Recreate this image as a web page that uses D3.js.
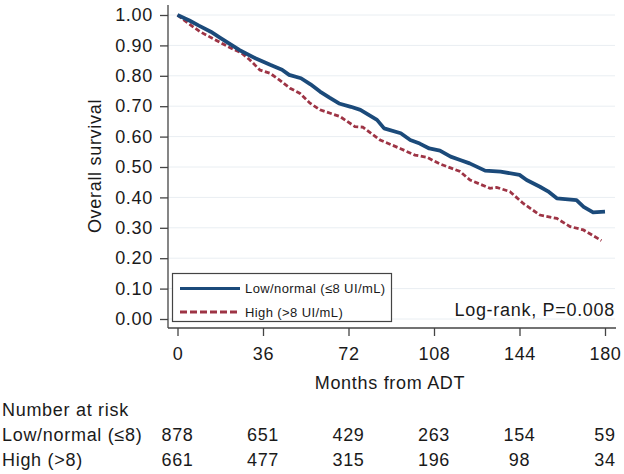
<!DOCTYPE html>
<html>
<head>
<meta charset="utf-8">
<script src="https://cdn.jsdelivr.net/npm/d3@7"></script>
<style>
  body { margin: 0; background: #fff; }
  svg { display: block; font-family: "Liberation Sans", Arial, Helvetica, sans-serif; }
  .lbl { fill: #1a1a1a; font-size: 18px; letter-spacing: 0.7px; }
</style>
</head>
<body>
<div id="chart"></div>
<script>
// Kaplan-Meier estimates: [months, survival]
const lowNormal = [
    [0, 1.0], [5, 0.982], [9, 0.965], [14, 0.945], [18, 0.925], [23, 0.9], [26, 0.885],
    [33, 0.857], [39, 0.836], [44, 0.82], [47, 0.803], [52, 0.792], [56, 0.772],
    [60, 0.748], [64, 0.728], [68, 0.709], [73, 0.698], [77, 0.688], [84, 0.655],
    [87, 0.627], [94, 0.611], [98, 0.589], [102, 0.577], [106, 0.561], [110.5, 0.554],
    [115, 0.534], [119, 0.523], [123, 0.512], [129.5, 0.488], [136, 0.485],
    [144, 0.474], [147, 0.457], [152.6, 0.435], [156, 0.42], [159.7, 0.397],
    [168, 0.391], [171, 0.369], [175, 0.351], [180, 0.353]
];
const high = [
    [0, 1.0], [5, 0.97], [9.5, 0.945], [16, 0.918], [22, 0.893], [27, 0.875],
    [30.5, 0.852], [34.7, 0.819], [39, 0.808], [43, 0.786], [47.4, 0.759],
    [51.6, 0.742], [55.8, 0.71], [60, 0.688], [68.4, 0.666], [74.7, 0.633],
    [78, 0.631], [85.3, 0.589], [93.7, 0.561], [100, 0.539], [105, 0.532],
    [110.5, 0.51], [119, 0.485], [123.2, 0.457], [131.6, 0.43], [134.4, 0.433],
    [140, 0.419], [145.6, 0.38], [152.6, 0.342], [159.7, 0.331], [165.3, 0.304],
    [170.9, 0.293], [178.5, 0.258]
];
const xTicks = [0, 36, 72, 108, 144, 180];
const yTicks = [0, 0.1, 0.2, 0.3, 0.4, 0.5, 0.6, 0.7, 0.8, 0.9, 1.0];
const seriesNames = ["Low/normal (\u22648 UI/mL)", "High (>8 UI/mL)"];
const riskLabels = ["Low/normal (\u22648)", "High (>8)"];
const riskLow = [878, 651, 429, 263, 154, 59];
const riskHigh = [661, 477, 315, 196, 98, 34];

const W = 624, H = 474;
const blue = "#1b4a7a", red = "#9e3445", axisCol = "#444";

const svg = d3.select("#chart").append("svg")
    .attr("width", W)
    .attr("height", H);

const x = d3.scaleLinear().domain([0, 180]).range([177.5, 605]);
const y = d3.scaleLinear().domain([0, 1]).range([319, 15]);

const axisLeftX = 168, axisBottomY = 328, plotRight = 616;

// gridlines
svg.append("g")
    .selectAll("line")
    .data(yTicks)
    .enter().append("line")
    .attr("x1", axisLeftX)
    .attr("x2", plotRight - 1)
    .attr("y1", d => y(d))
    .attr("y2", d => y(d))
    .attr("stroke", "#e9eef2")
    .attr("stroke-width", 1);

// y axis
const yAxis = svg.append("g")
    .attr("transform", `translate(${axisLeftX},0)`)
    .call(d3.axisLeft(y).tickValues(yTicks).tickFormat(d3.format(".2f")).tickSize(8).tickPadding(7));
yAxis.select(".domain").remove();
yAxis.selectAll(".tick line").attr("stroke", axisCol).attr("stroke-width", 1.3);
yAxis.selectAll(".tick text").attr("class", "lbl").attr("font-size", null).attr("font-family", null);

// x axis
const xAxis = svg.append("g")
    .attr("transform", `translate(0,${axisBottomY})`)
    .call(d3.axisBottom(x).tickValues(xTicks).tickSize(8).tickPadding(11));
xAxis.select(".domain").remove();
xAxis.selectAll(".tick line").attr("stroke", axisCol).attr("stroke-width", 1.3);
xAxis.selectAll(".tick text").attr("class", "lbl").attr("font-size", null).attr("font-family", null);

// axis lines
svg.append("line")
    .attr("x1", axisLeftX).attr("x2", axisLeftX)
    .attr("y1", 5).attr("y2", axisBottomY)
    .attr("stroke", axisCol).attr("stroke-width", 1.3);
svg.append("line")
    .attr("x1", axisLeftX).attr("x2", plotRight)
    .attr("y1", axisBottomY).attr("y2", axisBottomY)
    .attr("stroke", axisCol).attr("stroke-width", 1.3);

// axis titles
svg.append("text")
    .attr("class", "lbl")
    .attr("transform", "translate(101,166) rotate(-90)")
    .attr("text-anchor", "middle")
    .text("Overall survival");

svg.append("text")
    .attr("class", "lbl")
    .attr("x", 390)
    .attr("y", 389)
    .attr("text-anchor", "middle")
    .text("Months from ADT");

// curves
const line = d3.line()
    .x(d => x(d[0]))
    .y(d => y(d[1]));

svg.append("path")
    .datum(high)
    .attr("d", line)
    .attr("fill", "none")
    .attr("stroke", red)
    .attr("stroke-width", 2.8)
    .attr("stroke-dasharray", "5,2.5");

svg.append("path")
    .datum(lowNormal)
    .attr("d", line)
    .attr("fill", "none")
    .attr("stroke", blue)
    .attr("stroke-width", 3.8)
    .attr("stroke-linejoin", "round");

// legend
const legend = svg.append("g");
legend.append("rect")
    .attr("x", 172.5)
    .attr("y", 273.5)
    .attr("width", 219)
    .attr("height", 48)
    .attr("fill", "#fff")
    .attr("stroke", axisCol)
    .attr("stroke-width", 1.2);

const legendRows = [
    { name: seriesNames[0], color: blue, dash: null, width: 3 },
    { name: seriesNames[1], color: red, dash: "7,3", width: 2.8 }
];
legendRows.forEach((r, i) => {
    const cy = 288.5 + i * 23.5;
    legend.append("line")
        .attr("x1", 180).attr("x2", 240)
        .attr("y1", cy).attr("y2", cy)
        .attr("stroke", r.color)
        .attr("stroke-width", r.width)
        .attr("stroke-dasharray", r.dash);
    legend.append("text")
        .attr("x", 245)
        .attr("y", cy + 4.5)
        .attr("fill", "#1a1a1a")
        .attr("font-size", 13)
        .attr("letter-spacing", 0.4)
        .text(r.name);
});

svg.append("text")
    .attr("class", "lbl")
    .attr("x", 615)
    .attr("y", 316)
    .attr("text-anchor", "end")
    .text("Log-rank, P=0.008");

// number at risk table
svg.append("text")
    .attr("class", "lbl")
    .attr("x", 2)
    .attr("y", 416)
    .text("Number at risk");

[riskLow, riskHigh].forEach((vals, i) => {
    const by = 441 + i * 25;
    svg.append("text")
        .attr("class", "lbl")
        .attr("x", 2)
        .attr("y", by)
        .text(riskLabels[i]);
    svg.append("g")
        .selectAll("text")
        .data(vals)
        .enter().append("text")
        .attr("class", "lbl")
        .attr("x", (d, j) => x(xTicks[j]))
        .attr("y", by)
        .attr("text-anchor", "middle")
        .text(d => d);
});
</script>
</body>
</html>
